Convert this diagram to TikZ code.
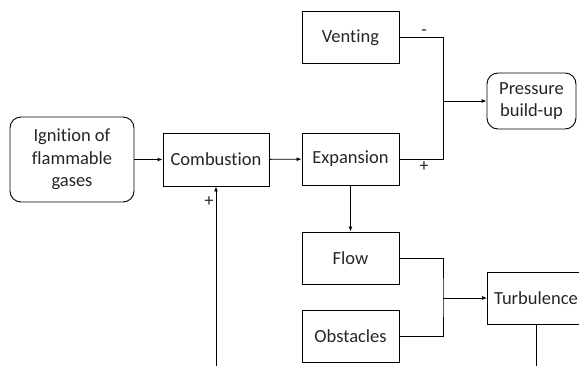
\documentclass[tikz,border=0pt]{standalone}
\usepackage{fontspec}
\setmainfont[Ligatures=NoCommon]{Carlito}
\usetikzlibrary{shapes, arrows.meta, positioning, calc}
\tikzstyle{rect} = [draw, rectangle, line width=0.9pt, fill=white, text=black!85, minimum width=97pt, minimum height=52pt, align=center, inner sep=2pt]
\tikzstyle{roundrect} = [rect, rounded corners=11pt]
\tikzstyle{line} = [draw, line width=0.9pt, -{Latex[length=5pt,width=4pt]}]
\tikzstyle{wire} = [draw, line width=0.9pt]
\tikzstyle{sign} = [font=\fontsize{18}{20}\selectfont, text=black!85, inner sep=2pt]

\begin{document}
\begin{tikzpicture}[x=1pt, y=-1pt, font=\fontsize{18.5}{22.5}\selectfont]
	\useasboundingbox (0,0) rectangle (579,365);
	\clip (0,0) rectangle (579,365);
	\node [roundrect, minimum width=124pt, minimum height=85pt] (ignition) at (72,159.5) {Ignition of\\flammable\\gases};
	\node [rect, minimum width=106pt, minimum height=53pt] (combustion) at (216,159.5) {Combustion};
	\node [rect] (expansion) at (350.5,159) {Expansion};
	\node [rect] (venting) at (350.5,37.5) {Venting};
	\node [roundrect, minimum width=89pt, minimum height=56pt] (pressure) at (531.5,101) {Pressure\\build-up};
	\node [rect] (flow) at (350.5,258) {Flow};
	\node [rect] (obstacles) at (350.5,336) {Obstacles};
	\node [rect] (turbulence) at (536,298) {Turbulence};
	\coordinate (pj) at (443,101);
	\coordinate (tj) at (443,298);
	\coordinate (cin) at (216,380);
	\coordinate (tout) at (536,380);
	
	\path [line] (ignition) -- (combustion);
	\path [line] (combustion) -- (expansion);
	\path [wire] (venting.east) -- node [sign, above, xshift=3pt] {-} (venting.east -| pj) -- (expansion.east -| pj) -- node [sign, below, xshift=3pt] {+} (expansion.east);
	\path [line] (pj) -- (pressure);
	\path [line] (expansion) -- (flow);
	\path [wire] (flow.east) -| (tj) |- (obstacles.east);
	\path [line] (tj) -- (turbulence);
	\path [wire] (turbulence) -- (tout);
	\path [line] (cin) -- node [sign, pos=0.92, left] {+} (combustion);
\end{tikzpicture}
\end{document}
